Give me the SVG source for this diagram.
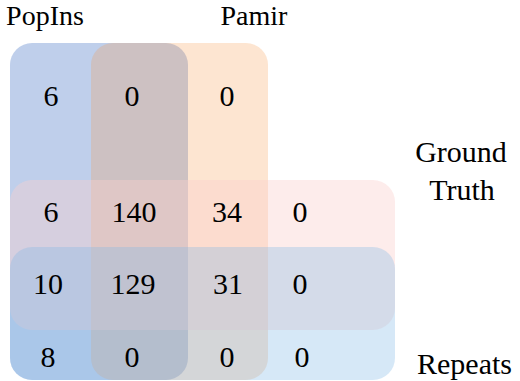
<svg xmlns="http://www.w3.org/2000/svg" width="520" height="381" viewBox="0 0 520 381">
  <rect x="0" y="0" width="520" height="381" fill="#ffffff"/>
  <g id="set-popins">
    <rect x="10" y="43" width="178" height="337" rx="22" ry="22" fill="#4472C4" fill-opacity="0.34"/>
  </g>
  <g id="set-pamir">
    <rect x="91" y="43" width="177" height="337" rx="22" ry="22" fill="#F79646" fill-opacity="0.25"/>
  </g>
  <g id="set-groundtruth">
    <rect x="10" y="180" width="385" height="150" rx="22" ry="22" fill="#FACFCD" fill-opacity="0.4"/>
  </g>
  <g id="set-repeats">
    <rect x="10" y="247" width="385" height="133" rx="22" ry="22" fill="#7FB7E6" fill-opacity="0.32"/>
  </g>
  <text x="45" y="25" text-anchor="middle" font-family="Liberation Serif" font-size="28">PopIns</text>
  <text x="254" y="25" text-anchor="middle" font-family="Liberation Serif" font-size="28">Pamir</text>
  <text x="461" y="162" text-anchor="middle" font-family="Liberation Serif" font-size="30">Ground</text>
  <text x="462" y="200" text-anchor="middle" font-family="Liberation Serif" font-size="30">Truth</text>
  <text x="417" y="374" font-family="Liberation Serif" font-size="30">Repeats</text>
  <text x="51" y="106" text-anchor="middle" font-family="Liberation Serif" font-size="30">6</text>
  <text x="132" y="106" text-anchor="middle" font-family="Liberation Serif" font-size="30">0</text>
  <text x="227" y="106" text-anchor="middle" font-family="Liberation Serif" font-size="30">0</text>
  <text x="51" y="222" text-anchor="middle" font-family="Liberation Serif" font-size="30">6</text>
  <text x="134" y="222" text-anchor="middle" font-family="Liberation Serif" font-size="30">140</text>
  <text x="227" y="222" text-anchor="middle" font-family="Liberation Serif" font-size="30">34</text>
  <text x="300" y="222" text-anchor="middle" font-family="Liberation Serif" font-size="30">0</text>
  <text x="48" y="294" text-anchor="middle" font-family="Liberation Serif" font-size="30">10</text>
  <text x="133" y="294" text-anchor="middle" font-family="Liberation Serif" font-size="30">129</text>
  <text x="228" y="294" text-anchor="middle" font-family="Liberation Serif" font-size="30">31</text>
  <text x="300" y="294" text-anchor="middle" font-family="Liberation Serif" font-size="30">0</text>
  <text x="48" y="367" text-anchor="middle" font-family="Liberation Serif" font-size="30">8</text>
  <text x="132" y="367" text-anchor="middle" font-family="Liberation Serif" font-size="30">0</text>
  <text x="227" y="367" text-anchor="middle" font-family="Liberation Serif" font-size="30">0</text>
  <text x="302" y="367" text-anchor="middle" font-family="Liberation Serif" font-size="30">0</text>
</svg>
